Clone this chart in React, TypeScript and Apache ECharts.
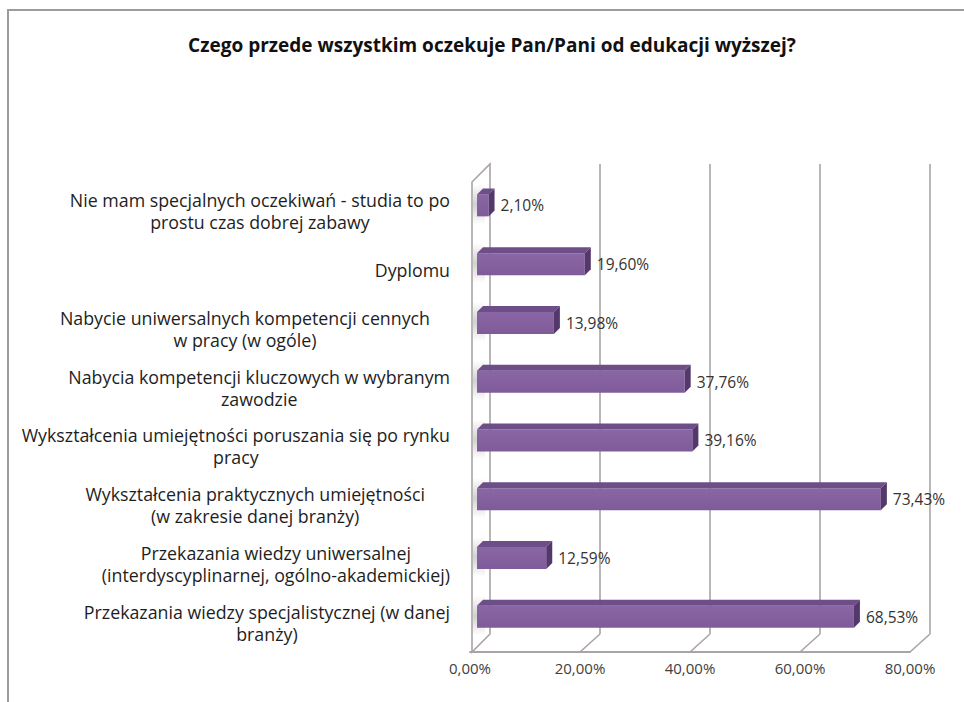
import React, { useEffect, useRef } from "react";
import * as echarts from "echarts";

const title = "Czego przede wszystkim oczekuje Pan/Pani od edukacji wyższej?";
const categories = [
  "Nie mam specjalnych oczekiwań - studia to po\nprostu czas dobrej zabawy",
  "Dyplomu",
  "Nabycie uniwersalnych kompetencji cennych\nw pracy (w ogóle)",
  "Nabycia kompetencji kluczowych w wybranym\nzawodzie",
  "Wykształcenia umiejętności poruszania się po rynku\npracy",
  "Wykształcenia praktycznych umiejętności\n(w zakresie danej branży)",
  "Przekazania wiedzy uniwersalnej\n(interdyscyplinarnej, ogólno-akademickiej)",
  "Przekazania wiedzy specjalistycznej (w danej\nbranży)",
];
const values = [2.1, 19.6, 13.98, 37.76, 39.16, 73.43, 12.59, 68.53];
const ticks = [0, 20, 40, 60, 80];

const FONT = "'Open Sans', 'Noto Sans', sans-serif";
const fmt = (v: number) => v.toFixed(2).replace(".", ",") + "%";
// label style per category (Excel wrapped boxes leave a gap on two of them)
const labelStyleByIndex: Record<number, string> = { 2: "p20", 5: "p25" };

export default function App() {
  const ref = useRef<HTMLDivElement>(null);
  useEffect(() => {
    if (!ref.current) return;
    const chart = echarts.init(ref.current, null, { renderer: "svg" });
    const lineColor = "#aaa4a4";
    const base = { align: "center", fontFamily: FONT, fontSize: 17.8, lineHeight: 22, color: "#1e1e1e" };
    const option: any = {
      animation: false,
      backgroundColor: "#ffffff",
      title: {
        text: title,
        left: 487,
        textAlign: "center",
        top: 30,
        textStyle: { fontFamily: FONT, fontSize: 19, fontWeight: "bold", color: "#111111" },
      },
      graphic: [
        {
          type: "rect",
          shape: { x: 8, y: 10, width: 1000, height: 800 },
          style: { fill: "none", stroke: "#9c9c9c", lineWidth: 2 },
          silent: true,
        },
      ],
      grid: { left: 470, top: 182, width: 440, height: 470 },
      xAxis: {
        type: "value",
        min: 0,
        max: 80,
        interval: 20,
        axisLine: { show: true, lineStyle: { color: lineColor, width: 2 } },
        axisTick: { show: false },
        splitLine: { show: false },
        axisLabel: {
          formatter: (v: number) => fmt(v),
          fontFamily: FONT,
          fontSize: 15,
          color: "#404040",
          margin: 8,
        },
      },
      yAxis: {
        type: "category",
        inverse: true,
        data: categories,
        axisLine: { show: false },
        axisTick: { show: false },
        splitLine: { show: false },
        axisLabel: {
          margin: 20,
          formatter: (v: string, idx: number) => {
            const s = labelStyleByIndex[idx] || "c";
            return v
              .split("\n")
              .map((l) => `{${s}|${l}}`)
              .join("\n");
          },
          rich: {
            c: base,
            p20: { ...base, padding: [0, 20, 0, 0] },
            p25: { ...base, padding: [0, 25, 0, 0] },
          },
        },
      },
      series: [
        {
          type: "custom",
          z: 1,
          clip: false,
          data: ticks.map((t) => [t, 0]),
          renderItem: (params: any, api: any) => {
            const t = api.value(0);
            const x = api.coord([t, 0])[0];
            const cs = params.coordSys;
            const yTop = cs.y;
            const yBot = cs.y + cs.height;
            const dx = 20;
            const dy = 18;
            const children: any[] = [];
            const ls = { stroke: lineColor, lineWidth: 1.6, fill: "none" };
            if (t === 0) {
              children.push({
                type: "polygon",
                shape: {
                  points: [
                    [x + 2, yTop],
                    [x + dx, yTop - dy],
                    [x + dx, yBot - dy],
                    [x + 2, yBot],
                  ],
                },
                style: { fill: "#ffffff", stroke: lineColor, lineWidth: 1.6 },
              });
            } else {
              children.push({
                type: "line",
                shape: { x1: x, y1: yBot, x2: x + dx, y2: yBot - dy },
                style: ls,
              });
              children.push({
                type: "line",
                shape: { x1: x + dx, y1: yBot - dy, x2: x + dx, y2: yTop - dy },
                style: ls,
              });
            }
            return { type: "group", children };
          },
        },
        {
          type: "custom",
          z: 2,
          clip: false,
          data: values.map((v, i) => [v, i]),
          renderItem: (params: any, api: any) => {
            const v = api.value(0);
            const idx = api.value(1);
            const p0 = api.coord([0, idx]);
            const p1 = api.coord([v, idx]);
            const h = 22;
            const d = 6;
            const x0 = p0[0] + 7;
            const x1 = p1[0] + 7;
            const yc = p0[1] - 6;
            const yt = yc - h / 2;
            const yb = yc + h / 2;
            return {
              type: "group",
              children: [
                {
                  type: "rect",
                  shape: { x: p0[0] + 3, y: yt - 10, width: 12, height: h + 18 },
                  style: {
                    fill: new echarts.graphic.LinearGradient(0, 0, 0, 1, [
                      { offset: 0, color: "rgba(90,90,90,0)" },
                      { offset: 0.5, color: "rgba(90,90,90,0.28)" },
                      { offset: 1, color: "rgba(90,90,90,0)" },
                    ]),
                  },
                },
                {
                  type: "rect",
                  shape: { x: x0, y: yt, width: x1 - x0, height: h },
                  style: {
                    fill: new echarts.graphic.LinearGradient(0, 0, 0, 1, [
                      { offset: 0, color: "#8a67a4" },
                      { offset: 1, color: "#7f5c99" },
                    ]),
                  },
                },
                {
                  type: "polygon",
                  shape: { points: [[x0, yt], [x1, yt], [x1 + d, yt - d], [x0 + d, yt - d]] },
                  style: { fill: "#6d4e88" },
                },
                {
                  type: "polygon",
                  shape: { points: [[x1, yt], [x1 + d, yt - d], [x1 + d, yb - d], [x1, yb]] },
                  style: { fill: "#54386c" },
                },
                {
                  type: "text",
                  style: {
                    text: fmt(v),
                    x: x1 + 12,
                    y: yc,
                    align: "left",
                    verticalAlign: "middle",
                    fontFamily: FONT,
                    fontSize: 15.5,
                    fill: "#333333",
                  },
                },
              ],
            };
          },
        },
      ],
    };
    chart.setOption(option);
    return () => chart.dispose();
  }, []);
  return (
    <div
      ref={ref}
      style={{ position: "fixed", left: 0, top: 0, width: 964, height: 702 }}
    />
  );
}
